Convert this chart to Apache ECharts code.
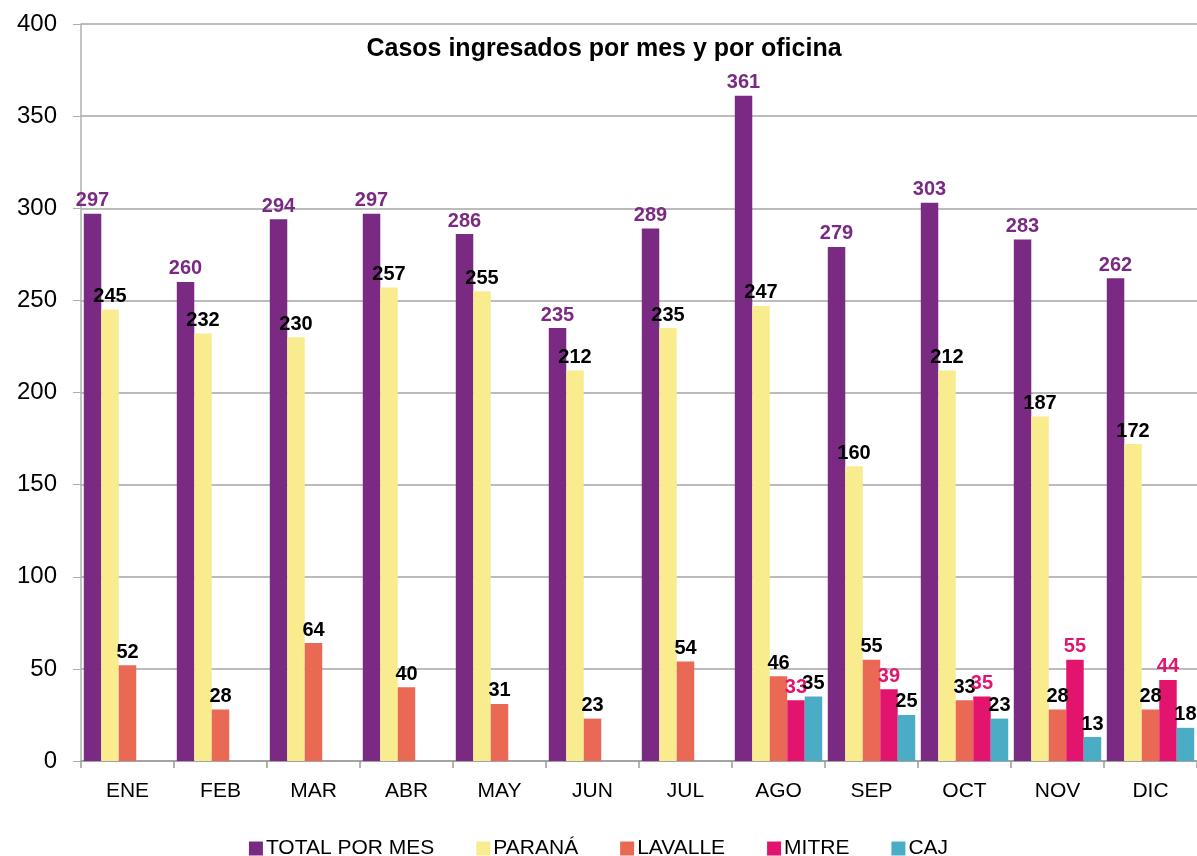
<!DOCTYPE html>
<html>
<head>
<meta charset="utf-8">
<script src="https://cdn.jsdelivr.net/npm/echarts@6/dist/echarts.min.js"></script>
<style>
html, body { margin: 0; padding: 0; background: #fff; }
#chart { width: 1197px; height: 856px; }
</style>
</head>
<body>
<div id="chart"></div>
<script>
var meses = ['ENE', 'FEB', 'MAR', 'ABR', 'MAY', 'JUN', 'JUL', 'AGO', 'SEP', 'OCT', 'NOV', 'DIC'];
var totalPorMes = [297, 260, 294, 297, 286, 235, 289, 361, 279, 303, 283, 262];
var parana = [245, 232, 230, 257, 255, 212, 235, 247, 160, 212, 187, 172];
var lavalle = [52, 28, 64, 40, 31, 23, 54, 46, 55, 33, 28, 28];
var mitre = [null, null, null, null, null, null, null, 33, 39, 35, 55, 44];
var caj = [null, null, null, null, null, null, null, 35, 25, 23, 13, 18];

var fuente = 'Liberation Sans, Arial, sans-serif';

function serie(nombre, datos, color, colorLabel) {
	return {
		name : nombre,
		type : 'bar',
		data : datos,
		barGap : '0%',
		barCategoryGap : '6%',
		itemStyle : {
			color : color
		},
		label : {
			show : true,
			position : 'top',
			distance : 3,
			color : colorLabel,
			fontFamily : fuente,
			fontWeight : 'bold',
			fontSize : 20
		}
	};
}

var myChart = echarts.init(document.getElementById('chart'));
var option = {
	animation : false,
	title : {
		text : 'Casos ingresados por mes y por oficina',
		left : 599,
		top : 32,
		textAlign : 'center',
		textStyle : {
			fontFamily : fuente,
			fontWeight : 'bold',
			fontSize : 25,
			color : '#000'
		}
	},
	legend : {
		top : 833,
		left : 'center',
		itemWidth : 14,
		itemHeight : 14,
		itemGap : 42,
		icon : 'rect',
		textStyle : {
			fontFamily : fuente,
			fontSize : 21,
			color : '#000',
			padding : [0, 0, 0, -2]
		},
		data : ['TOTAL POR MES', 'PARANÁ', 'LAVALLE', 'MITRE', 'CAJ']
	},
	grid : {
		left : 81,
		top : 24,
		width : 1126,
		height : 737
	},
	xAxis : {
		type : 'category',
		data : meses,
		axisLine : {
			lineStyle : {
				color : '#9a9a9a',
				width : 1.5
			}
		},
		axisTick : {
			show : true,
			length : 7,
			lineStyle : {
				color : '#9a9a9a',
				width : 1.5
			}
		},
		axisLabel : {
			margin : 20,
			fontFamily : fuente,
			fontSize : 21,
			color : '#000'
		}
	},
	yAxis : {
		type : 'value',
		min : 0,
		max : 400,
		interval : 50,
		axisLine : {
			show : true,
			lineStyle : {
				color : '#b0b0b0',
				width : 1.5
			}
		},
		axisTick : {
			show : true,
			length : 8,
			lineStyle : {
				color : '#b0b0b0'
			}
		},
		axisLabel : {
			margin : 24,
			fontFamily : fuente,
			fontSize : 24,
			color : '#000'
		},
		splitLine : {
			lineStyle : {
				color : '#a6a6a6',
				width : 1.5
			}
		}
	},
	series : [
		serie('TOTAL POR MES', totalPorMes, '#7B2A84', '#7B2A84'),
		serie('PARANÁ', parana, '#F8EC8E', '#000'),
		serie('LAVALLE', lavalle, '#EA6955', '#000'),
		serie('MITRE', mitre, '#E2146E', '#E2146E'),
		serie('CAJ', caj, '#4BACC6', '#000')
	]
};
myChart.setOption(option);
</script>
</body>
</html>
